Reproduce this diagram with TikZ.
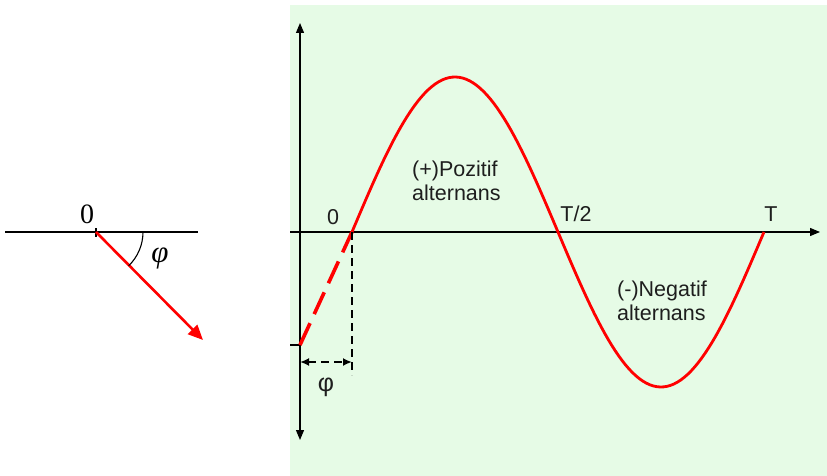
\documentclass[tikz,border=0pt]{standalone}
\usepackage{fontspec}
\newfontfamily\arialfont{Liberation Sans}
\newfontfamily\timesfont{Liberation Serif}
\usetikzlibrary{arrows.meta, positioning, calc}
\definecolor{PanelGreen}{RGB}{230,251,230}
\definecolor{WaveRed}{RGB}{255,0,0}
\definecolor{InkGray}{RGB}{30,30,30}
\tikzset{
  axistip/.tip={Triangle[length=10pt,width=8pt]},
  dimtip/.tip={Latex[length=9pt,width=8pt]},
  axisline/.style={line width=1.2pt,color=black},
  wave/.style={line width=2.8pt,color=WaveRed},
  phasor/.style={line width=2.6pt,color=WaveRed,-{Triangle[length=15pt,width=13pt]}},
  lbl/.style={font=\arialfont\fontsize{21.5}{24}\selectfont,text=InkGray,align=left,inner sep=0pt},
  serlbl/.style={font=\timesfont\fontsize{28}{32}\selectfont,inner sep=0pt},
  guide/.style={line width=2pt,dash pattern=on 8pt off 5pt}
}
\begin{document}
\begin{tikzpicture}[x=1pt,y=-1pt]
  \useasboundingbox (0,0) rectangle (827,476);
  % phasor on the left
  \coordinate (hl) at (5,232);
  \coordinate (hr) at (198,232);
  \coordinate (orig) at (96,232);
  \coordinate (tip) at (203,340);
  \draw[line width=1.1pt] (hl) -- (hr);
  \draw[line width=1.1pt] ($(orig)+(0,-4)$) -- ($(orig)+(0,5)$);
  \draw[phasor] (orig) -- (tip);
  \draw[line width=1.1pt] ($(orig)+(47,0)$) arc[start angle=0,end angle=-46,radius=47pt];
  \node[serlbl] (zeroL) at (87,214) {0};
  \node[serlbl,font=\timesfont\fontsize{31}{34}\selectfont] (phiL) at (160,258) {\itshape φ};
  % sine panel
  \fill[PanelGreen] (290,5) rectangle (827,476);
  \coordinate (ybot) at (300,440);
  \coordinate (ytop) at (300,23);
  \coordinate (xleft) at (290,232);
  \coordinate (xright) at (820,232);
  \coordinate (start) at (300,345);
  \coordinate (cross) at (352,232);
  \coordinate (foot) at (352,375);
  \draw[axisline,axistip-axistip] (ybot) -- (ytop);
  \draw[axisline,-axistip] (xleft) -- (xright);
  \draw[line width=1.6pt] (290,345) -- (start);
  \draw[wave] plot[domain=0:360,samples=120] ({352+\x*1.1444},{232-155*sin(\x)});
  \draw[wave,line width=3.6pt,dash pattern=on 24pt off 10pt] (start) -- (cross);
  \draw[guide] (cross) -- (foot);
  \draw[guide,dimtip-dimtip] (300,362) -- (352,362);
  \node[lbl,font=\arialfont\fontsize{25}{28}\selectfont] (phiR) at (326,387) {φ};
  \node[lbl] (zeroR) at (333,217) {0};
  \node[lbl] (half) at (576,214) {T/2};
  \node[lbl] (full) at (771,214) {T};
  \node[lbl,anchor=west] (pos) at (412,181) {(+)Pozitif\\alternans};
  \node[lbl,anchor=west] (neg) at (617,301) {(-)Negatif\\alternans};
\end{tikzpicture}
\end{document}
